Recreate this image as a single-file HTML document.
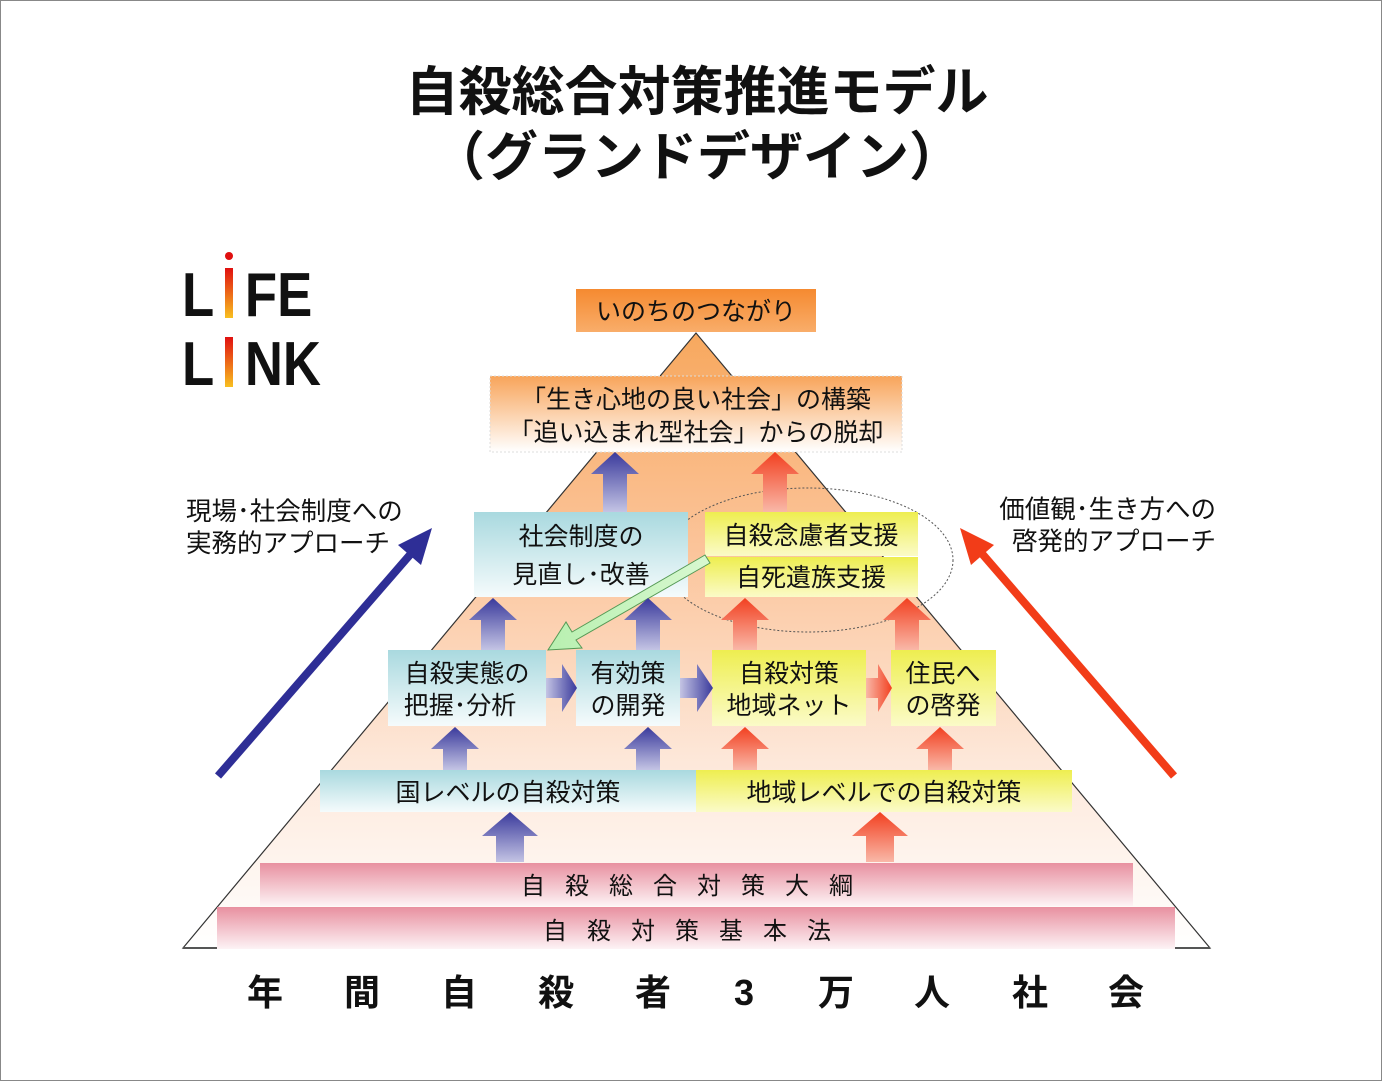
<!DOCTYPE html>
<html><head><meta charset="utf-8"><style>
html,body{margin:0;padding:0;background:#fff}
svg{display:block}
text{font-family:"Liberation Sans","Noto Sans CJK JP",sans-serif;fill:#111}
</style></head><body>
<svg width="1382" height="1081" viewBox="0 0 1382 1081" xmlns="http://www.w3.org/2000/svg">
<defs>
<linearGradient id="pyr" x1="0" y1="0" x2="0" y2="1"><stop offset="0" stop-color="#f7a85e"/><stop offset="0.35" stop-color="#fbc49a"/><stop offset="0.7" stop-color="#fde8da"/><stop offset="1" stop-color="#ffffff"/></linearGradient>
<linearGradient id="org" x1="0" y1="0" x2="0" y2="1"><stop offset="0" stop-color="#f58a30"/><stop offset="1" stop-color="#f9ad6a"/></linearGradient>
<linearGradient id="org2" x1="0" y1="0" x2="0" y2="1"><stop offset="0" stop-color="#f8a45a"/><stop offset="1" stop-color="#ffffff"/></linearGradient>
<linearGradient id="blu" x1="0" y1="0" x2="0" y2="1"><stop offset="0" stop-color="#a9d9df"/><stop offset="1" stop-color="#f5fbfc"/></linearGradient>
<linearGradient id="yel" x1="0" y1="0" x2="0" y2="1"><stop offset="0" stop-color="#eeee50"/><stop offset="1" stop-color="#fbfbc8"/></linearGradient>
<linearGradient id="pnk" x1="0" y1="0" x2="0" y2="1"><stop offset="0" stop-color="#e890a0"/><stop offset="1" stop-color="#fdf3f5"/></linearGradient>
<linearGradient id="ba" x1="0" y1="0" x2="0" y2="1"><stop offset="0" stop-color="#3a3a9c"/><stop offset="1" stop-color="#c4c4e4"/></linearGradient>
<linearGradient id="ra" x1="0" y1="0" x2="0" y2="1"><stop offset="0" stop-color="#f24020"/><stop offset="1" stop-color="#f9b8a8"/></linearGradient>
<linearGradient id="bh" x1="0" y1="0" x2="1" y2="0"><stop offset="0" stop-color="#c4c4e4"/><stop offset="1" stop-color="#3a3a9c"/></linearGradient>
<linearGradient id="rh" x1="0" y1="0" x2="1" y2="0"><stop offset="0" stop-color="#f9b8a8"/><stop offset="1" stop-color="#f24020"/></linearGradient>
<linearGradient id="lg" x1="0" y1="0" x2="1" y2="0"><stop offset="0" stop-color="#b8f0b0"/><stop offset="1" stop-color="#d8f8d0"/></linearGradient>
<linearGradient id="logo" x1="0" y1="0" x2="0" y2="1"><stop offset="0" stop-color="#e01010"/><stop offset="1" stop-color="#f8c020"/></linearGradient>
</defs>
<rect x="0.5" y="0.5" width="1381" height="1080" fill="#fff" stroke="#888"/>
<text x="697" y="110" font-size="53" font-weight="bold" text-anchor="middle">自殺総合対策推進モデル</text>
<text x="697" y="175" font-size="53" font-weight="bold" text-anchor="middle">（グランドデザイン）</text>
<!-- logo -->
<g transform="translate(182,0) scale(0.85,1) translate(-182,0)">
<text x="182" y="316" font-size="62" font-weight="bold">L</text>
<text x="256" y="316" font-size="62" font-weight="bold">FE</text>
<text x="182" y="385" font-size="62" font-weight="bold">L</text>
<text x="256" y="385" font-size="62" font-weight="bold">NK</text>
</g>
<rect x="225" y="268" width="8" height="50" fill="url(#logo)"/><circle cx="229" cy="256" r="4" fill="#e01010"/>
<rect x="225" y="337" width="8" height="50" fill="url(#logo)"/>
<!-- pyramid -->
<polygon points="696,333 183,948 1210,948" fill="url(#pyr)" stroke="#333" stroke-width="1.2"/>
<ellipse cx="808" cy="560" rx="145" ry="72" fill="none" stroke="#555" stroke-dasharray="2,2"/>
<rect x="576" y="289" width="240" height="43" fill="url(#org)"/>
<text x="696" y="320" font-size="25" text-anchor="middle">いのちのつながり</text>
<rect x="490" y="376" width="412" height="76" fill="url(#org2)" stroke="#ddd" stroke-dasharray="2,2"/>
<text x="696" y="408" font-size="25" text-anchor="middle">「生き心地の良い社会」の構築</text>
<text x="696" y="441" font-size="25" text-anchor="middle">「追い込まれ型社会」からの脱却</text>
<rect x="474" y="512" width="214" height="85" fill="url(#blu)"/>
<text x="581" y="545" font-size="25" text-anchor="middle">社会制度の</text>
<text x="581" y="583" font-size="25" text-anchor="middle">見直し･改善</text>
<rect x="705" y="512" width="213" height="44" fill="url(#yel)"/>
<rect x="705" y="557" width="213" height="40" fill="url(#yel)"/>
<text x="811" y="544" font-size="25" text-anchor="middle">自殺念慮者支援</text>
<text x="811" y="586" font-size="25" text-anchor="middle">自死遺族支援</text>
<polygon points="705,555 572,632 566,622 548,650 582,648 576,640 710,563" fill="url(#lg)" stroke="#559955" stroke-width="1"/>
<rect x="388" y="650" width="158" height="76" fill="url(#blu)"/>
<text x="467" y="682" font-size="25" text-anchor="middle">自殺実態の</text>
<text x="460" y="714" font-size="25" text-anchor="middle">把握･分析</text>
<rect x="576" y="650" width="104" height="76" fill="url(#blu)"/>
<text x="628" y="682" font-size="25" text-anchor="middle">有効策</text>
<text x="628" y="714" font-size="25" text-anchor="middle">の開発</text>
<rect x="712" y="650" width="154" height="76" fill="url(#yel)"/>
<text x="789" y="682" font-size="25" text-anchor="middle">自殺対策</text>
<text x="789" y="714" font-size="25" text-anchor="middle">地域ネット</text>
<rect x="891" y="650" width="105" height="76" fill="url(#yel)"/>
<text x="943" y="682" font-size="25" text-anchor="middle">住民へ</text>
<text x="943" y="714" font-size="25" text-anchor="middle">の啓発</text>
<rect x="320" y="770" width="376" height="42" fill="url(#blu)"/>
<text x="508" y="801" font-size="25" text-anchor="middle">国レベルの自殺対策</text>
<rect x="696" y="770" width="376" height="42" fill="url(#yel)"/>
<text x="884" y="801" font-size="25" text-anchor="middle">地域レベルでの自殺対策</text>
<rect x="260" y="863" width="873" height="43" fill="url(#pnk)"/>
<text x="697" y="894" font-size="24" text-anchor="middle" letter-spacing="20">自殺総合対策大綱</text>
<rect x="217" y="907" width="958" height="42" fill="url(#pnk)"/>
<text x="697" y="939" font-size="24" text-anchor="middle" letter-spacing="20">自殺対策基本法</text>
<line x1="183" y1="948" x2="217" y2="948" stroke="#555" stroke-width="2"/>
<line x1="1175" y1="948" x2="1210" y2="948" stroke="#555" stroke-width="2"/>
<g fill="url(#ba)">
<path d="M603 512 V474 H591 L615 452 L639 474 H627 V512 Z"/>
<path d="M481 650 V620 H469 L493 598 L517 620 H505 V650 Z"/>
<path d="M636 650 V620 H624 L648 598 L672 620 H660 V650 Z"/>
<path d="M443 770 V749 H431 L455 727 L479 749 H467 V770 Z"/>
<path d="M636 770 V749 H624 L648 727 L672 749 H660 V770 Z"/>
<path d="M496 862 V836 H482 L510 812 L538 836 H524 V862 Z"/>
</g>
<g fill="url(#ra)">
<path d="M763 512 V474 H751 L775 452 L799 474 H787 V512 Z"/>
<path d="M733 650 V620 H721 L745 598 L769 620 H757 V650 Z"/>
<path d="M895 650 V620 H883 L907 598 L931 620 H919 V650 Z"/>
<path d="M733 770 V749 H721 L745 727 L769 749 H757 V770 Z"/>
<path d="M928 770 V749 H916 L940 727 L964 749 H952 V770 Z"/>
<path d="M866 862 V836 H852 L880 812 L908 836 H894 V862 Z"/>
</g>
<path d="M546 678 H562 V664 L577 688 L562 712 V698 H546 Z" fill="url(#bh)"/>
<path d="M680 678 H697 V664 L713 688 L697 712 V698 H680 Z" fill="url(#bh)"/>
<path d="M866 678 H878 V664 L892 688 L878 712 V698 H866 Z" fill="url(#rh)"/>
<line x1="218" y1="776" x2="415" y2="549" stroke="#2e2e96" stroke-width="8"/>
<polygon points="432,528 398,545 421,565" fill="#2e2e96"/>
<line x1="1174" y1="776" x2="978" y2="549" stroke="#f23c18" stroke-width="8"/>
<polygon points="960,528 994,545 971,565" fill="#f23c18"/>
<text x="186" y="520" font-size="25.5">現場･社会制度への</text>
<text x="186" y="552" font-size="25.5">実務的アプローチ</text>
<text x="1216" y="518" font-size="25.5" text-anchor="end">価値観･生き方への</text>
<text x="1216" y="550" font-size="25.5" text-anchor="end">啓発的アプローチ</text>
<g font-size="36" font-weight="bold" text-anchor="middle">
<text x="265" y="1005">年</text><text x="362" y="1005">間</text><text x="459" y="1005">自</text><text x="556" y="1005">殺</text><text x="653" y="1005">者</text><text x="744" y="1005">3</text><text x="836" y="1005">万</text><text x="932" y="1005">人</text><text x="1030" y="1005">社</text><text x="1126" y="1005">会</text>
</g>
</svg>
</body></html>
